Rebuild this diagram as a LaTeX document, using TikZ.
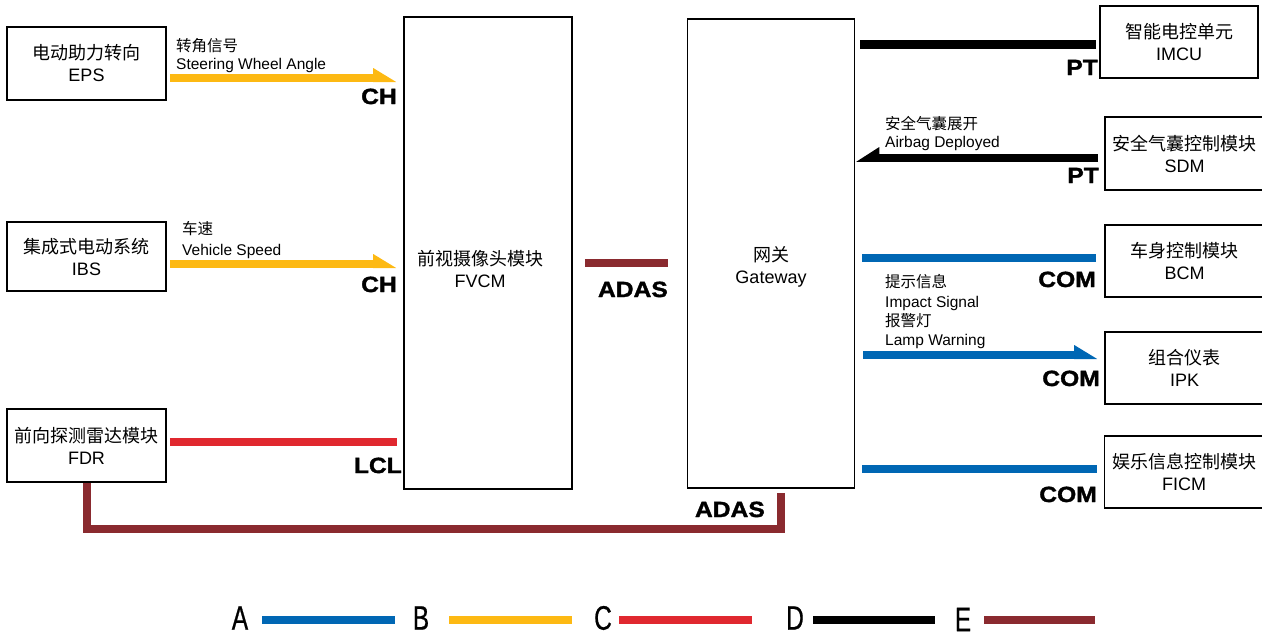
\documentclass[tikz,border=0pt]{standalone}
\usepackage{fontspec}
\setmainfont{Liberation Sans}
\newfontfamily\cjk{Noto Sans CJK SC}
\newfontfamily\heavy{Liberation Sans Bold}[FakeBold=1.6, FakeStretch=1.12]
\newfontfamily\narrow{Liberation Sans}[FakeStretch=0.72, FakeBold=0.6]
\usetikzlibrary{calc}
\definecolor{cA}{HTML}{0067B4}
\definecolor{cB}{HTML}{FDB913}
\definecolor{cC}{HTML}{E0282F}
\definecolor{cD}{HTML}{000000}
\definecolor{cE}{HTML}{8A2A2F}
% right-pointing half arrow: color, start, tip
\newcommand\sigR[3]{%
  \draw[wire,#1] (#2) -- ($(#3)+(-22,0)$);
  \fill[#1] ($(#3)+(-23,4)$) -- ($(#3)+(-23,-10)$) -- ($(#3)+(0,4)$) -- cycle;}
% left-pointing half arrow
\newcommand\sigL[3]{%
  \draw[wire,#1] (#2) -- ($(#3)+(22,0)$);
  \fill[#1] ($(#3)+(23,4.25)$) -- ($(#3)+(23,-10.5)$) -- ($(#3)+(0,4.25)$) -- cycle;}
\begin{document}
\begin{tikzpicture}[x=1pt,y=-1pt,
  box/.style={draw, line width=1.6pt, inner sep=0pt, align=center,
              font=\fontsize{18}{22}\selectfont},
  btext/.style={inner sep=0pt, align=center, font=\fontsize{18}{22}\selectfont},
  lbl/.style={inner sep=0pt, anchor=base west, font=\fontsize{15.5}{18}\selectfont},
  bus/.style={inner sep=0pt, anchor=base east, font=\heavy\fontsize{22}{24}\selectfont},
  leg/.style={inner sep=1pt, font=\narrow\fontsize{34}{36}\selectfont},
  wire/.style={line width=8pt},
  ]
\useasboundingbox (0,0) rectangle (1262,635);

% ---------- boxes ----------
\node[box, minimum width=159, minimum height=73] (eps) at (86.5,63.5) {{\cjk 电动助力转向}\\EPS};
\node[box, minimum width=159, minimum height=69] (ibs) at (86.5,256.5) {{\cjk 集成式电动系统}\\IBS};
\node[box, minimum width=159, minimum height=73] (fdr) at (86.5,445.5) {{\cjk 前向探测雷达模块}\\FDR};
\node[box, minimum width=168, minimum height=472] (fvcm) at (488,253) {};
\node[btext] (fvcmt) at (480,269) {{\cjk 前视摄像头模块}\\FVCM};
\node[box, minimum width=167, minimum height=469] (gw) at (771,253.5) {};
\node[btext] (gwt) at (771,267) {{\cjk 网关}\\Gateway};
\node[box, minimum width=158, minimum height=72] (imcu) at (1179,42) {{\cjk 智能电控单元}\\IMCU};
\node[box, minimum width=159, minimum height=73] (sdm) at (1184.5,153.5) {{\cjk 安全气囊控制模块}\\SDM};
\node[box, minimum width=159, minimum height=72] (bcm) at (1184.5,261) {{\cjk 车身控制模块}\\BCM};
\node[box, minimum width=159, minimum height=72] (ipk) at (1184.5,368) {{\cjk 组合仪表}\\IPK};
\node[box, minimum width=159, minimum height=72] (ficm) at (1184,472) {{\cjk 娱乐信息控制模块}\\FICM};

% ---------- connectors ----------
\coordinate (e1) at ($(eps.east)+(3,14.5)$);
\coordinate (e1t) at ($(e1 -| fvcm.west)+(-7,0)$);
\sigR{cB}{e1}{e1t}
\coordinate (i1) at ($(ibs.east)+(3,7.5)$);
\coordinate (i1t) at ($(i1 -| fvcm.west)+(-7,0)$);
\sigR{cB}{i1}{i1t}
\coordinate (f1) at ($(fdr.east)+(3,-3.5)$);
\draw[wire,cC] (f1) -- ($(f1 -| fvcm.west)+(-6,0)$);
\coordinate (m1) at ($(gw.south)+(10,4)$);
\draw[wire,cE,line join=miter] (fdr.south) -- ++(0,46) -| (m1);
\coordinate (a1) at ($(fvcm.east)+(12,10)$);
\draw[wire,cE] (a1) -- ($(a1 -| gw.west)+(-19,0)$);
\coordinate (p1) at ($(imcu.west)+(-3,2.5)$);
\draw[wire,cD,line width=9pt] (p1) -- ($(p1 -| gw.east)+(5,0)$);
\coordinate (s1) at ($(sdm.west)+(-6,4)$);
\coordinate (s1t) at ($(s1 -| gw.east)+(1,0)$);
\sigL{cD}{s1}{s1t}
\coordinate (b1) at ($(bcm.west)+(-8,-3.5)$);
\draw[wire,cA] (b1) -- ($(b1 -| gw.east)+(7,0)$);
\coordinate (k1) at ($(gw.east)+(8,101.5)$);
\coordinate (k1t) at ($(k1 -| ipk.west)+(-7,0)$);
\sigR{cA}{k1}{k1t}
\coordinate (c1) at ($(ficm.west)+(-7,-3)$);
\draw[wire,cA] (c1) -- ($(c1 -| gw.east)+(7,0)$);

% ---------- signal labels ----------
\node[lbl] (l1) at (176,51) {\cjk 转角信号};
\node[lbl] (l2) at (176,69) {Steering Wheel Angle};
\node[lbl] (l3) at (182,234) {\cjk 车速};
\node[lbl] (l4) at (182,255) {Vehicle Speed};
\node[lbl] (l5) at (885,129) {\cjk 安全气囊展开};
\node[lbl] (l6) at (885,147) {Airbag Deployed};
\node[lbl] (l7) at (885,287) {\cjk 提示信息};
\node[lbl] (l8) at (885,307) {Impact Signal};
\node[lbl] (l9) at (885,326) {\cjk 报警灯};
\node[lbl] (l10) at (885,345) {Lamp Warning};

% ---------- bus labels ----------
\node[bus] (ch1) at (397,104) {CH};
\node[bus] (ch2) at (397,292) {CH};
\node[bus] (lcl) at (402,473) {LCL};
\node[bus] (ad1) at (668,297) {ADAS};
\node[bus] (ad2) at (765,517) {ADAS};
\node[bus] (pt1) at (1098,75) {PT};
\node[bus] (pt2) at (1099,183) {PT};
\node[bus] (com1) at (1096,287) {COM};
\node[bus] (com2) at (1100,386) {COM};
\node[bus] (com3) at (1097,502) {COM};

% ---------- legend ----------
\node[leg] (lA) at (240,618) {A};
\node[leg] (lB) at (421,618) {B};
\node[leg] (lC) at (603,618) {C};
\node[leg] (lD) at (795,618) {D};
\node[leg] (lE) at (963,619.5) {E};
\draw[wire,cA] ($(lA)+(22,2)$) -- ++(133,0);
\draw[wire,cB] ($(lB)+(28,2)$) -- ++(123,0);
\draw[wire,cC] ($(lC)+(16,2)$) -- ++(133,0);
\draw[wire,cD] ($(lD)+(18,2)$) -- ++(122,0);
\draw[wire,cE] ($(lE)+(21,0.5)$) -- ++(111,0);
\end{tikzpicture}
\end{document}
